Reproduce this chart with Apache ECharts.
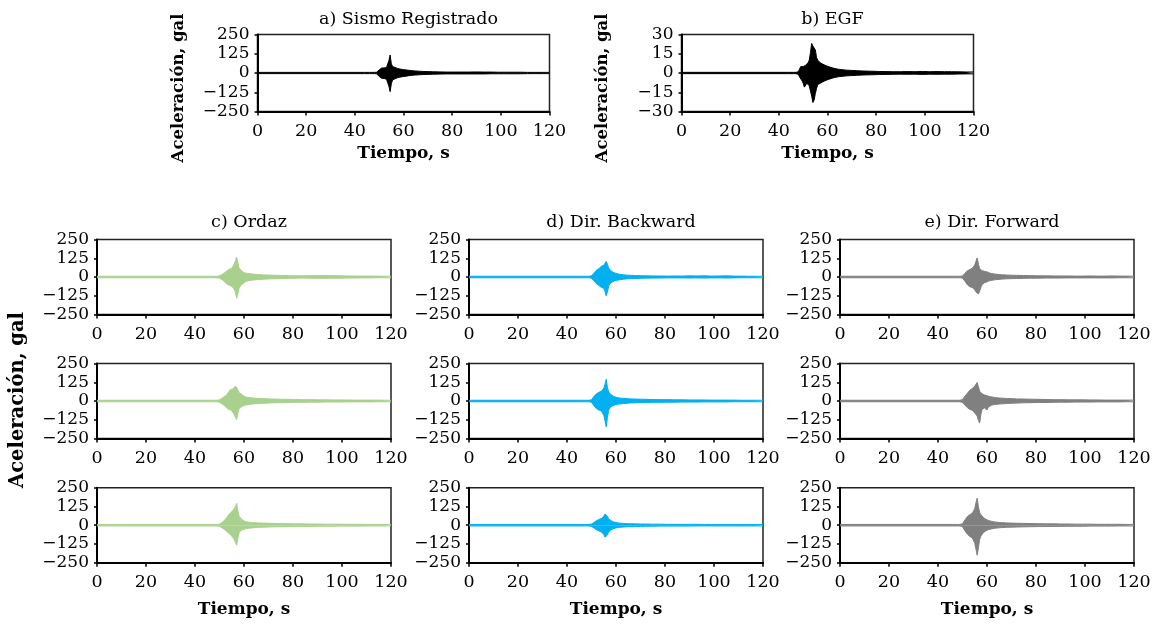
<!DOCTYPE html>
<html><head><meta charset="utf-8">
<script src="https://cdn.jsdelivr.net/npm/echarts@6/dist/echarts.min.js"></script>
<style>html,body{margin:0;padding:0;background:#fff}#c{width:1156px;height:628px}</style>
</head><body><div id="c"></div>
<script>
// time samples (s)
const T = [0,44,46,47,
 48,48.5,49,49.5,50,50.5,51,51.5,52,52.5,53,53.5,54,54.5,55,55.5,56,56.5,57,57.5,58,58.5,59,59.5,60,60.5,61,
 62,63,64,65,66,
 68,70,72,
 75,78,81,84,87,90,93,96,99,102,105,108,111,114,117,120];

// a) Sismo Registrado (upper / lower envelope, gal)
const aU = [4,4,4,4, 4,4,5,8,20,28,32,30,33,36,35,45,80,117,60,42,40,36,32,30,28,26,25,23,22,21,20, 18,16,14,13,12, 10,9,8, 7,6,6,6,6,7,6,6,5,5,5,5,4,4,4,4];
const aL = [-4,-4,-4,-4, -4,-4,-5,-8,-22,-30,-34,-33,-36,-38,-40,-50,-85,-121,-70,-45,-42,-38,-33,-31,-29,-27,-25,-24,-23,-22,-20, -18,-16,-14,-13,-12, -10,-9,-8, -7,-6,-6,-6,-6,-6,-6,-5,-5,-5,-5,-5,-4,-4,-4,-4];
// b) EGF
const bU = [0.5,0.5,0.5,0.5, 1,3,5,6,5,6,6,7,8,10,16,23,21,20,18,12,10,9,8,7.5,7,6.5,6,5.5,5.2,5,4.6, 4,3.5,3.1,2.8,2.6, 2.2,2,1.8, 1.5,1.4,1.2,1.1,1,1,1.1,1,1.2,1,1.1,1,1,0.9,0.8,0.8];
const bL = [-0.5,-0.5,-0.5,-0.5, -1,-3,-4,-6,-8,-11,-10,-8,-8,-10,-14,-18,-23,-21,-16,-12,-9,-8,-8,-7.5,-7,-6.5,-6,-5.5,-5.2,-5,-4.6, -4,-3.5,-3.1,-2.8,-2.6, -2.2,-2,-1.8, -1.5,-1.4,-1.2,-1.1,-1,-0.9,-1,-0.9,-1.1,-0.9,-1,-0.9,-0.9,-0.8,-0.7,-0.7];
// c) Ordaz, rows 1-3
const c1U = [5,5,5,5, 5,5,5,6,8,12,16,22,28,34,40,48,52,55,58,70,85,110,133,95,60,48,42,35,29,27,25, 23,21,19,17,16, 14,13,12, 10,9,8,8,9,10,10,9,8,7,7,6,6,6,5,5];
const c1L = [-5,-5,-5,-5, -5,-5,-5,-6,-8,-12,-17,-22,-30,-38,-47,-52,-55,-58,-62,-70,-80,-100,-142,-110,-75,-60,-55,-45,-38,-32,-28, -24,-22,-20,-18,-17, -15,-13,-12, -11,-9,-8,-7,-8,-9,-9,-8,-8,-7,-7,-6,-6,-5,-5,-5];
const c2U = [5,5,5,5, 5,5,5,6,8,12,18,24,30,36,40,55,68,76,78,80,92,100,105,75,55,50,45,38,32,28,25, 23,21,20,18,17, 16,14,13, 12,11,10,9,9,8,8,7,7,7,6,6,6,6,5,5];
const c2L = [-5,-5,-5,-5, -5,-5,-5,-6,-8,-12,-18,-24,-32,-40,-46,-52,-58,-62,-64,-70,-90,-110,-124,-80,-50,-42,-38,-34,-30,-28,-26, -23,-21,-19,-18,-17, -15,-14,-12, -11,-10,-9,-9,-8,-8,-7,-7,-7,-6,-6,-6,-6,-5,-5,-5];
const c3U = [5,5,5,5, 5,5,5,6,8,12,18,25,32,42,52,62,75,85,90,98,110,125,145,95,60,48,40,33,28,25,22, 20,18,17,16,15, 14,13,12, 11,10,9,9,8,8,7,7,7,6,6,6,5,5,5,5];
const c3L = [-5,-5,-5,-5, -5,-5,-5,-6,-8,-12,-17,-22,-28,-36,-43,-50,-57,-65,-72,-80,-95,-115,-133,-90,-50,-38,-32,-29,-27,-24,-22, -20,-18,-17,-15,-14, -13,-12,-11, -10,-9,-9,-8,-8,-7,-7,-7,-6,-6,-6,-6,-5,-5,-5,-5];
// d) Dir. Backward, rows 1-3
const d1U = [5,5,5,5, 5,5,5,6,8,15,25,35,45,50,55,62,72,75,78,90,104,85,60,48,40,35,30,26,24,22,20, 17,15,13,12,11, 10,9,8, 7,7,6,7,6,8,7,8,6,7,8,6,6,5,5,5];
const d1L = [-5,-5,-5,-5, -5,-5,-5,-6,-8,-15,-25,-35,-45,-50,-55,-60,-70,-72,-75,-95,-125,-100,-60,-46,-38,-33,-28,-25,-23,-21,-20, -17,-15,-13,-12,-11, -10,-9,-8, -7,-7,-6,-6,-6,-7,-6,-7,-6,-6,-7,-6,-5,-5,-5,-5];
const d2U = [5,5,5,5, 5,5,5,6,8,18,30,40,48,55,58,62,65,70,85,110,145,90,60,48,42,36,31,27,25,23,21, 19,18,16,15,14, 13,12,11, 10,9,9,8,8,7,7,7,6,6,6,6,5,5,5,5];
const d2L = [-5,-5,-5,-5, -5,-5,-5,-6,-8,-18,-32,-42,-50,-58,-60,-64,-66,-72,-95,-130,-173,-110,-62,-45,-38,-33,-29,-26,-24,-22,-20, -19,-17,-16,-14,-13, -12,-11,-10, -9,-9,-8,-8,-7,-7,-7,-6,-6,-6,-6,-5,-5,-5,-5,-5];
const d3U = [5,5,5,5, 5,5,5,6,8,12,18,24,30,34,38,42,45,50,60,75,80,60,42,36,30,26,22,20,18,16,15, 13,12,11,10,10, 9,8,8, 7,7,6,6,6,6,6,5,5,5,5,5,5,5,5,5];
const d3L = [-5,-5,-5,-5, -5,-5,-5,-6,-8,-12,-18,-24,-30,-35,-38,-42,-45,-50,-62,-80,-88,-65,-45,-36,-30,-26,-22,-20,-18,-16,-15, -13,-12,-11,-10,-10, -9,-8,-7, -7,-6,-6,-6,-6,-6,-5,-5,-5,-5,-5,-5,-5,-5,-5,-5];
// e) Dir. Forward, rows 1-3
const e1U = [5,5,5,5, 5,5,5,5,7,15,25,35,42,48,50,53,58,65,80,105,127,85,55,48,42,40,38,36,34,30,27, 23,20,18,16,15, 13,12,11, 10,9,8,8,7,7,7,6,6,7,6,6,7,6,6,5];
const e1L = [-5,-5,-5,-5, -5,-5,-5,-5,-7,-15,-28,-40,-52,-60,-65,-68,-70,-75,-85,-100,-110,-113,-95,-70,-50,-42,-38,-34,-32,-28,-25, -22,-19,-17,-16,-14, -12,-11,-10, -9,-8,-8,-7,-7,-7,-6,-6,-6,-6,-6,-6,-6,-5,-5,-5];
const e2U = [5,5,5,5, 5,5,5,6,10,20,32,42,52,62,72,80,83,88,100,112,123,95,65,55,48,44,40,38,35,32,30, 27,24,22,20,19, 17,16,14, 13,12,11,10,9,9,8,8,8,7,7,6,6,6,6,6];
const e2L = [-5,-5,-5,-5, -5,-5,-5,-6,-10,-18,-28,-36,-44,-50,-56,-60,-62,-68,-80,-90,-100,-130,-147,-90,-55,-48,-45,-55,-60,-40,-32, -27,-24,-22,-20,-19, -17,-15,-14, -12,-11,-10,-10,-9,-8,-8,-7,-7,-7,-6,-6,-6,-6,-5,-5];
const e3U = [5,5,5,5, 5,5,5,5,10,22,35,48,58,65,70,75,80,88,110,150,180,120,85,70,60,52,45,40,36,32,29, 25,22,20,18,17, 15,14,13, 12,11,10,9,9,8,8,7,7,7,6,6,6,6,5,5];
const e3L = [-5,-5,-5,-5, -5,-5,-5,-5,-10,-22,-38,-50,-60,-68,-75,-80,-85,-95,-120,-160,-200,-150,-95,-72,-60,-50,-44,-38,-34,-30,-28, -24,-21,-19,-17,-16, -14,-13,-12, -11,-10,-9,-9,-8,-8,-7,-7,-7,-6,-6,-6,-6,-5,-5,-5];

const titles = ['a) Sismo Registrado','b) EGF','c) Ordaz','d) Dir. Backward','e) Dir. Forward'];
const xName = 'Tiempo, s';
const yName = 'Aceleración, gal';

const FONT = 'DejaVu Serif';
const GREEN = '#a9d18e', BLUE = '#00b0f0', GRAY = '#808080', BLACK = '#000000';

const panels = [
  {U:aU, L:aL, color:BLACK, left:257.5, top:34.5, w:292, h:77, ymax:250, yint:125, xname:true, gap:34},
  {U:bU, L:bL, color:BLACK, left:681.5, top:34.5, w:292, h:77, ymax:30, yint:15, xname:true, gap:34},
];
const colLeft = [97, 469, 840], colColor = [GREEN, BLUE, GRAY];
const rowTop = [239.5, 363.5, 487.7];
const bottomData = [[c1U,c1L,c2U,c2L,c3U,c3L],[d1U,d1L,d2U,d2L,d3U,d3L],[e1U,e1L,e2U,e2L,e3U,e3L]];
for (let c = 0; c < 3; c++) for (let r = 0; r < 3; r++) {
  panels.push({U:bottomData[c][2*r], L:bottomData[c][2*r+1], color:colColor[c], left:colLeft[c], top:rowTop[r], w:294, h:75, ymax:250, yint:125, xname:r===2, gap:38});
}

const fmt = v => v < 0 ? '\u2212' + Math.abs(v) : String(v);
const grids = [], xAxes = [], yAxes = [], series = [];
panels.forEach((p, i) => {
  grids.push({left:p.left, top:p.top, width:p.w, height:p.h, show:true, borderColor:'#222', borderWidth:1.5, backgroundColor:'transparent'});
  xAxes.push({type:'value', gridIndex:i, min:0, max:120, interval:20,
    axisLine:{show:true, onZero:false, lineStyle:{color:'#000', width:2}},
    axisTick:{show:true, length:4, lineStyle:{color:'#000', width:1.5}},
    splitLine:{show:false},
    axisLabel:{fontFamily:FONT, fontSize:17.5, color:'#000', margin:11},
    name: p.xname ? xName : '', nameLocation:'middle', nameGap: p.gap,
    nameTextStyle:{fontFamily:FONT, fontSize:17, fontWeight:'bold', color:'#000'}});
  yAxes.push({type:'value', gridIndex:i, min:-p.ymax, max:p.ymax, interval:p.yint,
    axisLine:{show:true, lineStyle:{color:'#000', width:2}},
    axisTick:{show:true, length:3, lineStyle:{color:'#000', width:1.5}},
    splitLine:{show:false},
    axisLabel:{fontFamily:FONT, fontSize:17, color:'#000', margin:8, formatter:fmt}});
  [p.U, p.L].forEach(arr => {
    series.push({type:'line', xAxisIndex:i, yAxisIndex:i, showSymbol:false, symbol:'none',
      data: T.map((t, k) => [t, arr[k]]),
      lineStyle:{color:p.color, width:1}, itemStyle:{color:p.color},
      areaStyle:{color:p.color, opacity:1}, silent:true, z:2});
  });
});

const titleCenters = [[403.5, 5], [827.5, 5], [244, 208], [616, 208], [987, 208]];
const titleOpts = titles.map((t, i) => ({text:t, left:titleCenters[i][0], top:titleCenters[i][1], textAlign:'center',
  textStyle:{fontFamily:FONT, fontSize:17.5, fontWeight:'normal', color:'#000'}}));

const yLabelPos = [[179, 88, 16.5], [603, 88, 16.5], [18, 400, 19.5]];
const graphics = yLabelPos.map(g => ({type:'text', x:g[0], y:g[1], rotation:Math.PI/2,
  style:{text:yName, fontFamily:FONT, fontSize:g[2], fontWeight:'bold', fill:'#000', textAlign:'center', textVerticalAlign:'middle'}}));

const chart = echarts.init(document.getElementById('c'), null, {renderer:'canvas'});
chart.setOption({animation:false, backgroundColor:'#fff', title:titleOpts, grid:grids, xAxis:xAxes, yAxis:yAxes, series:series, graphic:graphics});
</script></body></html>
